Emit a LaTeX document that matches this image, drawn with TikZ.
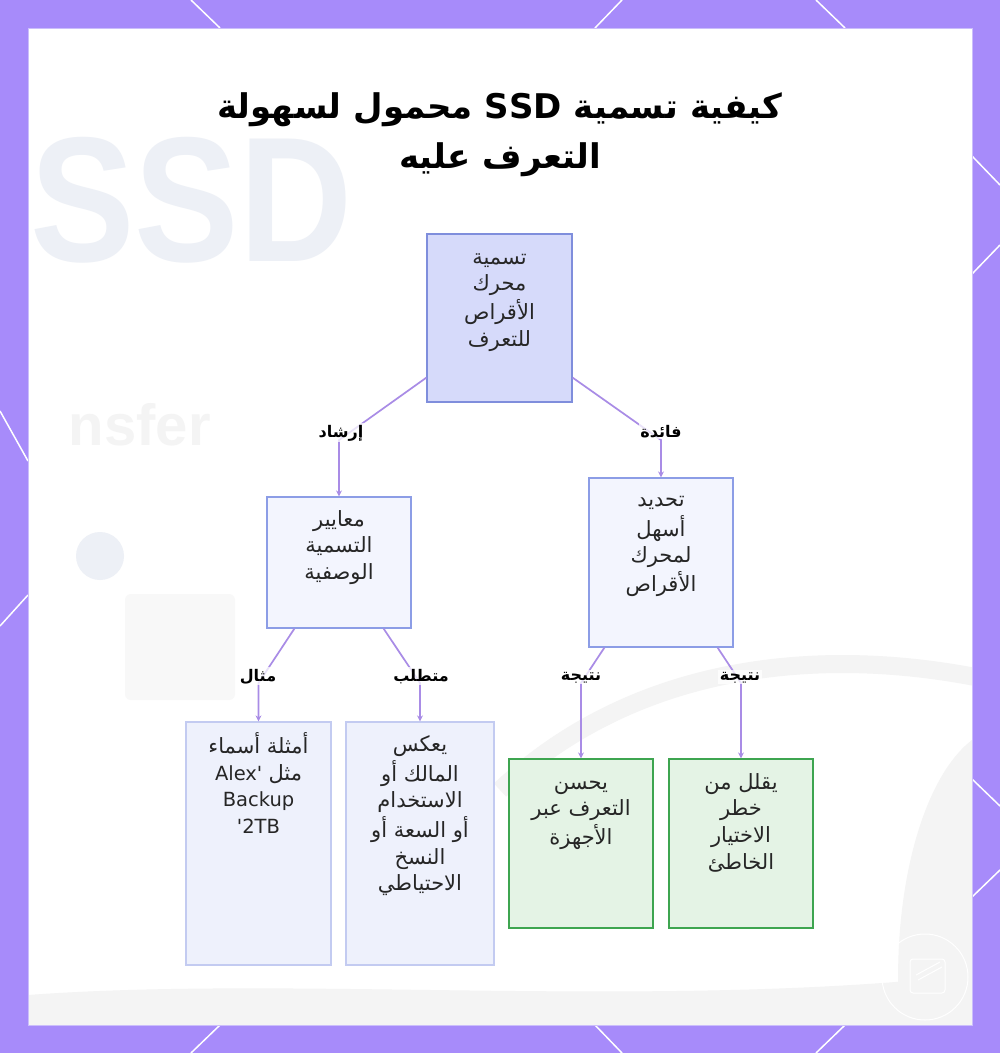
\documentclass[tikz,border=0pt]{standalone}
\usepackage{fontspec}
\setmainfont{DejaVu Sans}
\newfontfamily\arabicfont[Script=Arabic]{DejaVu Sans}
\newfontfamily\bgfont{Liberation Sans}
\TeXXeTstate=1
\usetikzlibrary{arrows.meta}
\definecolor{purplebg}{HTML}{A78BFA}
\definecolor{panelline}{HTML}{CBBEFB}
\definecolor{rootfill}{HTML}{D6DAFA}
\definecolor{rootline}{HTML}{7F8EDC}
\definecolor{midfill}{HTML}{F3F5FE}
\definecolor{midline}{HTML}{8C9DE6}
\definecolor{lowfill}{HTML}{EEF1FC}
\definecolor{lowline}{HTML}{C3CBF1}
\definecolor{greenfill}{HTML}{E4F3E5}
\definecolor{greenline}{HTML}{3EA550}
\definecolor{edgecol}{HTML}{A98CE6}
\definecolor{textcol}{HTML}{262626}
\definecolor{bgssd}{HTML}{EDF0F6}
\definecolor{bggray}{HTML}{F4F4F4}
\newcommand{\arl}[1]{\strut{\arabicfont\fontsize{21}{26.6}\selectfont\beginR #1\endR}}
\newcommand{\art}[1]{{\arabicfont\beginR #1\endR}}
\tikzset{
  bline/.style={draw=white, line width=1.5pt},
  box/.style={draw, line width=1.2pt, inner sep=0pt},
  rootbox/.style={box, fill=rootfill, draw=rootline},
  midbox/.style={box, fill=midfill, draw=midline},
  lowbox/.style={box, fill=lowfill, draw=lowline},
  greenbox/.style={box, fill=greenfill, draw=greenline},
  boxtext/.style={anchor=north, align=center, inner sep=0pt, text=textcol,
    font=\fontsize{19.5}{26.6}\selectfont},
  edge/.style={draw=edgecol, line width=1.7pt, -{Stealth[length=6pt,width=6pt]}},
  elabel/.style={anchor=base, fill=white, fill opacity=0.75, text opacity=1,
    inner sep=1.5pt, text=black, font=\bfseries\fontsize{16}{18}\selectfont},
  titletext/.style={anchor=base, inner sep=0pt, text=black,
    font=\bfseries\fontsize{34}{40}\selectfont}
}
\begin{document}
\begin{tikzpicture}[x=1pt,y=-1pt]
\useasboundingbox (0,0) rectangle (1000,1053);
% frame
\fill[purplebg] (0,0) rectangle (1000,1053);
\draw[bline] (191,0) -- (220,28);
\draw[bline] (622,0) -- (595,28);
\draw[bline] (816,0) -- (845,28);
\draw[bline] (191,1053) -- (220,1025);
\draw[bline] (622,1053) -- (595,1025);
\draw[bline] (816,1053) -- (845,1025);
\draw[bline] (0,411) -- (28,461);
\draw[bline] (0,626) -- (28,595);
\draw[bline] (1000,185) -- (972,156);
\draw[bline] (1000,245) -- (972,274);
\draw[bline] (1000,806) -- (972,779);
\draw[bline] (1000,870) -- (972,897);
% panel
\fill[white] (28,28) rectangle (972,1025);
\begin{scope}
\clip (28,28) rectangle (972,1025);
\fill[bggray] (28,1025) -- (28,995) .. controls (300,975) and (650,1010) .. (972,975) -- (972,1025) -- cycle;
\draw[bggray, line width=18pt] (500,790) .. controls (650,650) and (850,650) .. (990,680);
\fill[bggray] (972,740) .. controls (920,780) and (890,900) .. (900,1025) -- (972,1025) -- cycle;
\node[anchor=base west, inner sep=0pt, text=bgssd, xscale=0.88,
  font=\bgfont\bfseries\fontsize{178}{178}\selectfont] (bgssd) at (30,261) {SSD};
\node[anchor=base east, inner sep=0pt, text=bggray,
  font=\bgfont\bfseries\fontsize{58}{58}\selectfont] (bgtr) at (211,445) {nsfer};
\fill[bgssd] (100,556) circle (24);
\fill[bggray!60!white, rounded corners=6pt] (125,594) rectangle (235,700);
\draw[white, line width=1pt] (925,977) circle (43);
\draw[white, line width=1pt, rounded corners=3pt] (910,959) rectangle (945,993);
\draw[white, line width=1pt] (916,975) -- (940,962);
\draw[white, line width=1pt] (918,980) -- (942,967);
\end{scope}
\draw[panelline, line width=1pt] (28,28) rectangle (972,1025);
% title
\node[titletext] (t1) at (500,118) {\art{كيفية تسمية \beginL SSD\endL{} محمول لسهولة}};
\node[titletext] (t2) at (500,168) {\art{التعرف عليه}};
% boxes
\node[rootbox, minimum width=145pt, minimum height=168pt] (root) at (499.5,318) {};
\node[midbox, minimum width=144pt, minimum height=131pt] (lmid) at (339,562.5) {};
\node[midbox, minimum width=144pt, minimum height=169pt] (rmid) at (661,562.5) {};
\node[lowbox, minimum width=145pt, minimum height=243pt] (b1) at (258.5,843.5) {};
\node[lowbox, minimum width=148pt, minimum height=243pt] (b2) at (420,843.5) {};
\node[greenbox, minimum width=144pt, minimum height=169pt] (b3) at (581,843.5) {};
\node[greenbox, minimum width=144pt, minimum height=169pt] (b4) at (741,843.5) {};
% box texts
\node[boxtext] (roott) at ([yshift=-12pt]root.north) {\arl{تسمية}\\\arl{محرك}\\\arl{الأقراص}\\\arl{للتعرف}};
\node[boxtext] (lmidt) at ([yshift=-11pt]lmid.north) {\arl{معايير}\\\arl{التسمية}\\\arl{الوصفية}};
\node[boxtext] (rmidt) at ([yshift=-10pt]rmid.north) {\arl{تحديد}\\\arl{أسهل}\\\arl{لمحرك}\\\arl{الأقراص}};
\node[boxtext] (b1t) at ([yshift=-11pt]b1.north) {\arl{أمثلة أسماء}\\\strut Alex\textquotesingle{} \art{\fontsize{21}{26.6}\selectfont مثل}\\\strut Backup\\\strut \textquotesingle 2TB};
\node[boxtext] (b2t) at ([yshift=-11pt]b2.north) {\arl{يعكس}\\\arl{المالك أو}\\\arl{الاستخدام}\\\arl{أو السعة أو}\\\arl{النسخ}\\\arl{الاحتياطي}};
\node[boxtext] (b3t) at ([yshift=-12pt]b3.north) {\arl{يحسن}\\\arl{التعرف عبر}\\\arl{الأجهزة}};
\node[boxtext] (b4t) at ([yshift=-12pt]b4.north) {\arl{يقلل من}\\\arl{خطر}\\\arl{الاختيار}\\\arl{الخاطئ}};
% bends
\coordinate (k1) at (339,440);
\coordinate (k2) at (661,440);
\coordinate (k3) at (258.5,683);
\coordinate (k4) at (420,683);
\coordinate (k5) at (581,683);
\coordinate (k6) at (741,683);
% edges
\draw[edge] ([yshift=25pt]root.south west) -- (k1) -- (lmid.north);
\draw[edge] ([yshift=25pt]root.south east) -- (k2) -- (rmid.north);
\draw[edge] ([xshift=28pt]lmid.south west) -- (k3) -- (b1.north);
\draw[edge] ([xshift=-28pt]lmid.south east) -- (k4) -- (b2.north);
\draw[edge] ([xshift=16pt]rmid.south west) -- (k5) -- (b3.north);
\draw[edge] ([xshift=-16pt]rmid.south east) -- (k6) -- (b4.north);
% edge labels
\node[elabel] (l1) at (341,437) {\art{إرشاد}};
\node[elabel] (l2) at (661,437) {\art{فائدة}};
\node[elabel] (l3) at (258,681) {\art{مثال}};
\node[elabel] (l4) at (421,681) {\art{متطلب}};
\node[elabel] (l5) at (581,680) {\art{نتيجة}};
\node[elabel] (l6) at (740,680) {\art{نتيجة}};
\end{tikzpicture}
\end{document}
